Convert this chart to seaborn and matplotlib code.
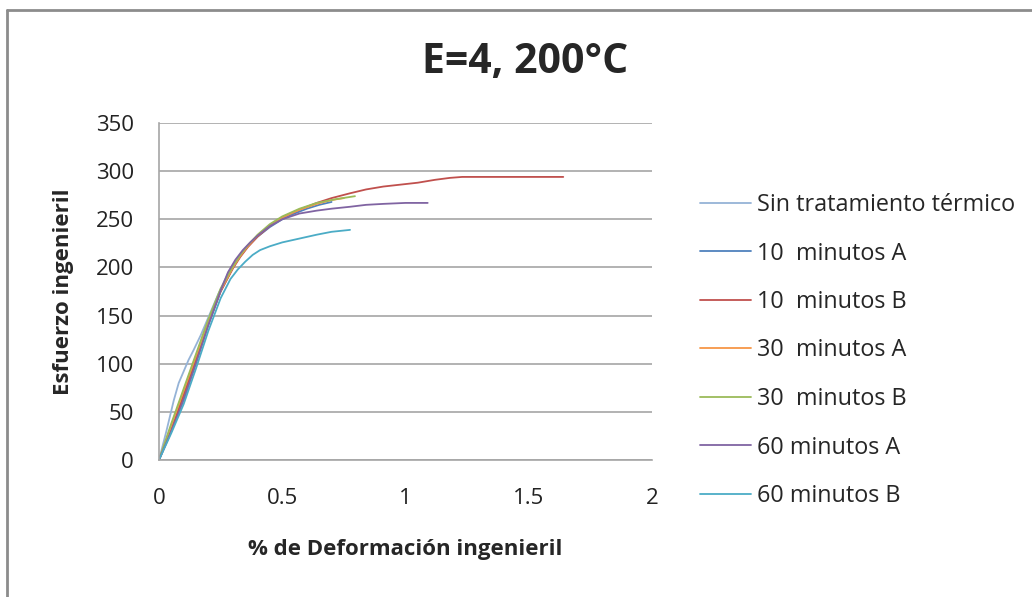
import pandas as pd
import matplotlib
matplotlib.use('Agg')
import matplotlib.pyplot as plt
import seaborn as sns
from matplotlib.lines import Line2D

# series
series = ['Sin tratamiento térmico', '10  minutos A', '10  minutos B',
          '30  minutos A', '30  minutos B', '60 minutos A', '60 minutos B']

x_sin = [0, 0.03, 0.06, 0.08, 0.10, 0.12, 0.14, 0.17, 0.20, 0.24, 0.28, 0.31]
y_sin = [0, 30, 62, 80, 92, 104, 114, 130, 148, 172, 194, 206]

x_10a = [0, 0.05, 0.10, 0.15, 0.20, 0.25, 0.30, 0.33, 0.36, 0.40, 0.45, 0.50, 0.55, 0.60, 0.65, 0.70]
y_10a = [0, 30, 64, 102, 140, 175, 200, 212, 222, 232, 242, 250, 256, 261, 265, 268]

x_10b = [0, 0.05, 0.10, 0.15, 0.20, 0.25, 0.30, 0.33, 0.36, 0.40, 0.45, 0.50, 0.57, 0.64, 0.70,
         0.775, 0.84, 0.91, 0.98, 1.05, 1.12, 1.18, 1.23, 1.64]
y_10b = [0, 32, 68, 105, 142, 175, 199, 211, 221, 232, 243, 252, 260, 267, 272,
         277, 281, 284, 286, 288, 291, 293, 294, 294]

x_30a = [0, 0.05, 0.10, 0.15, 0.20, 0.25, 0.30, 0.33, 0.36, 0.40, 0.45, 0.50, 0.57, 0.64, 0.70, 0.75]
y_30a = [0, 36, 72, 108, 144, 176, 200, 212, 222, 233, 244, 252, 260, 266, 270, 272]

x_30b = [0, 0.05, 0.10, 0.15, 0.20, 0.25, 0.30, 0.33, 0.36, 0.40, 0.45, 0.50, 0.57, 0.64, 0.72, 0.795]
y_30b = [0, 38, 74, 110, 146, 178, 201, 213, 223, 234, 245, 253, 261, 267, 271, 274]

x_60a = [0, 0.05, 0.10, 0.15, 0.20, 0.25, 0.28, 0.31, 0.34, 0.37, 0.40, 0.45, 0.50, 0.57, 0.64,
         0.70, 0.775, 0.84, 0.91, 1.00, 1.09]
y_60a = [0, 30, 62, 100, 140, 176, 195, 208, 218, 226, 233, 243, 250, 256, 259,
         261, 263, 265, 266, 267, 267]

x_60b = [0, 0.05, 0.10, 0.15, 0.20, 0.25, 0.29, 0.32, 0.35, 0.38, 0.41, 0.45, 0.50, 0.57, 0.64,
         0.70, 0.775]
y_60b = [0, 28, 58, 95, 134, 168, 188, 198, 206, 213, 218, 222, 226, 230, 234, 237, 239]

colores = ['#95B3D7', '#4F81BD', '#C0504D', '#F79646', '#9BBB59', '#8064A2', '#4BACC6']

xs = [x_sin, x_10a, x_10b, x_30a, x_30b, x_60a, x_60b]
ys = [y_sin, y_10a, y_10b, y_30a, y_30b, y_60a, y_60b]

filas = []
for nombre, xx, yy in zip(series, xs, ys):
    for a, b in zip(xx, yy):
        filas.append({'serie': nombre, 'def': a, 'esf': b})
df = pd.DataFrame(filas)

sns.set_style('white')
plt.rcParams['font.family'] = ['Open Sans', 'DejaVu Sans']

fig = plt.figure(figsize=(10.32, 5.97), dpi=100)
ax = fig.add_axes([159 / 1032, 1 - 460 / 597, (652 - 159) / 1032, (460 - 123) / 597])

sns.lineplot(data=df, x='def', y='esf', hue='serie', hue_order=series,
             palette=dict(zip(series, colores)), sort=False, estimator=None,
             units='serie', linewidth=1.3, ax=ax, legend=False)

ax.set_xlim(0, 2)
ax.set_ylim(0, 350)
ax.set_xticks([0, 0.5, 1, 1.5, 2])
ax.set_xticklabels(['0', '0.5', '1', '1.5', '2'])
ax.set_yticks(range(0, 351, 50))
ax.yaxis.grid(True, color='#A6A6A6', linewidth=1.2)
ax.xaxis.grid(False)
for s in ['top', 'right']:
    ax.spines[s].set_visible(False)
for s in ['left', 'bottom']:
    ax.spines[s].set_color('#A6A6A6')
    ax.spines[s].set_linewidth(1.2)
ax.tick_params(axis='both', labelsize=16, colors='#222222', length=0)
ax.tick_params(axis='x', pad=20)
ax.tick_params(axis='y', pad=18)

ax.set_xlabel('% de Deformación ingenieril', fontsize=16, fontweight='bold', labelpad=22)
ax.set_ylabel('Esfuerzo ingenieril', fontsize=16, fontweight='bold', labelpad=16)
fig.text(525 / 1032, 1 - 62 / 597, 'E=4, 200°C', fontsize=29.5, fontweight='bold',
         ha='center', va='center')

handles = [Line2D([0], [0], color=c, lw=1.3) for c in colores]
fig.legend(handles, series, loc='upper left', bbox_to_anchor=(700 / 1032, 1 - 193 / 597),
           frameon=False, fontsize=16.8, handlelength=2.2, handletextpad=0.25,
           labelspacing=1.05, borderaxespad=0, borderpad=0)

# borde del área del gráfico (solo arriba e izquierda visibles)
fig.add_artist(Line2D([7 / 1032, 1], [1 - 10 / 597, 1 - 10 / 597], color='#8C8C8C', lw=2))
fig.add_artist(Line2D([7 / 1032, 7 / 1032], [0, 1 - 10 / 597], color='#8C8C8C', lw=2))

fig.savefig('out.png', dpi=100)
